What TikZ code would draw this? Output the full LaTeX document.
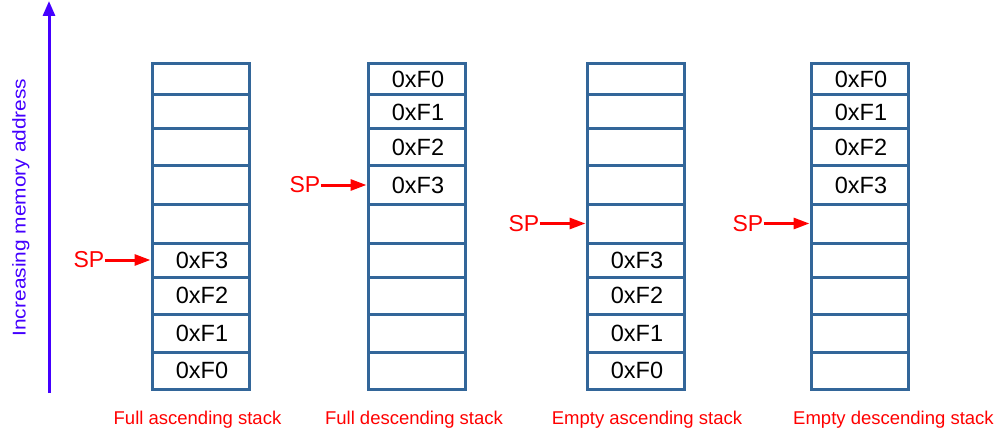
\documentclass[tikz,border=0pt]{standalone}
\usepackage{fontspec}
\setmainfont{Liberation Sans}
\usepackage{graphicx}
\usetikzlibrary{arrows.meta}
\usetikzlibrary{positioning}

\definecolor{cellblue}{RGB}{51,102,153}
\definecolor{spred}{RGB}{255,0,0}
\definecolor{addrblue}{RGB}{68,0,255}

\tikzset{cell/.style={rectangle,draw=cellblue,line width=3pt,inner sep=0pt,minimum width=97pt}}
\tikzset{cellval/.style={inner sep=0pt,font=\fontsize{23.5}{25}\selectfont}}
\tikzset{sptext/.style={text=spred,inner sep=0pt,font=\fontsize{23}{25}\selectfont}}
\tikzset{sparrow/.style={draw=spred,line width=3pt,-{Triangle[length=16pt,width=11pt]}}}
\tikzset{addrarrow/.style={draw=addrblue,line width=3pt,-{Triangle[length=15pt,width=12pt]}}}
\tikzset{caption/.style={text=spred,inner sep=0pt,anchor=base,font=\fontsize{18.5}{20}\selectfont}}

\begin{document}
\begin{tikzpicture}[x=1pt,y=-1pt]
\useasboundingbox (0,0) rectangle (1004,433);

% address axis
\coordinate (addrbot) at (49,393);
\coordinate (addrtop) at (49,1);
\draw[addrarrow] (addrbot) -- (addrtop);
\node (addr) [rotate=90,anchor=base,text=addrblue,inner sep=0pt,font=\fontsize{18.5}{20}\selectfont] at (25.5,207.5) {\scalebox{1.13}[1]{Increasing memory address}};

% the four stacks
\foreach \s/\x in {1/200.5,2/416.5,3/635.5,4/859.5} {
	\foreach \t/\b [count=\r] in {64/95,95/129,129/166,166/204,204/243,243/277,277/314,314/352,352/389} {
		\pgfmathsetmacro\h{\b-\t}
		\node (st\s-\r) at (\x,{(\t+\b)/2}) [cell,minimum height=\h pt] {};
	}
}

\foreach \s/\r/\v in {1/6/0xF3,1/7/0xF2,1/8/0xF1,1/9/0xF0,
	2/1/0xF0,2/2/0xF1,2/3/0xF2,2/4/0xF3,
	3/6/0xF3,3/7/0xF2,3/8/0xF1,3/9/0xF0,
	4/1/0xF0,4/2/0xF1,4/3/0xF2,4/4/0xF3} {
	\node (val\s-\r) at ([xshift=1.5pt]st\s-\r.center) [cellval] {\v};
}

% stack pointers
\foreach \s/\r in {1/6,2/4,3/5,4/5} {
	\node (sp\s) [sptext,left=46pt of st\s-\r.west] {SP};
	\draw[sparrow] (sp\s.east) -- (st\s-\r.west);
}

\node (cap1) at (197.5,424) [caption] {Full ascending stack};
\node (cap2) at (414,424) [caption] {Full descending stack};
\node (cap3) at (647,424) [caption] {Empty ascending stack};
\node (cap4) at (893.5,424) [caption] {Empty descending stack};

\end{tikzpicture}
\end{document}
